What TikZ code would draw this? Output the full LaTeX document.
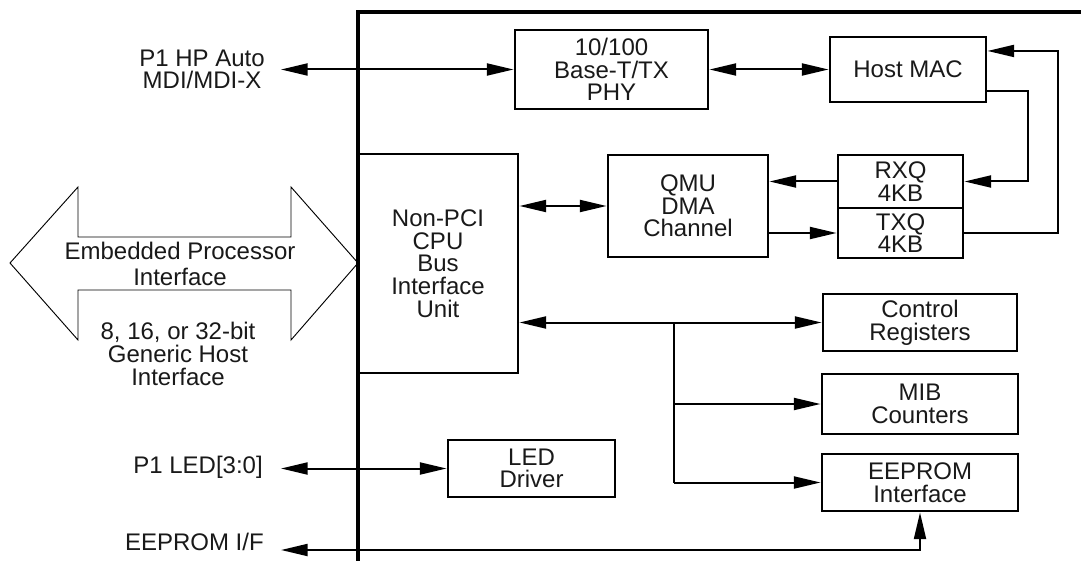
\documentclass[tikz,border=0pt]{standalone}
\usepackage{fontspec}
\setmainfont{Liberation Sans}
\usetikzlibrary{arrows.meta}
\begin{document}
\begin{tikzpicture}[x=0.75pt,y=-0.75pt,
  txt/.style={font=\fontsize{18pt}{17pt}\selectfont, text=black!90},
  box/.style={txt, draw, line width=2.2pt, inner sep=0pt, align=center},
  lbl/.style={txt, inner sep=0pt, align=center},
  conn/.style={line width=1.5pt},
  arr/.style={conn, -{Triangle[length=20pt,width=9pt]}},
  bi/.style={conn, {Triangle[length=20pt,width=9pt]}-{Triangle[length=20pt,width=9pt]}},
  bus/.style={line width=2.6pt},
]
\useasboundingbox (0,0) rectangle (1081,563);

% boxes
\node[box, minimum width=144.75pt, minimum height=59.25pt] (phy) at (611.5,69.5) {10/100\\Base-T/TX\\PHY};
\node[box, minimum width=117pt, minimum height=48.75pt] (mac) at (908,69.5) {Host MAC};
\node[box, minimum width=93.75pt, minimum height=39.75pt] (rxq) at (900.5,181.5) {RXQ\\4KB};
\node[box, minimum width=93.75pt, minimum height=37.5pt] (txq) at (900.5,233) {TXQ\\4KB};
\node[box, minimum width=120pt, minimum height=76.5pt] (qmu) at (688,206) {QMU\\DMA\\Channel};
\node[box, minimum width=120pt, minimum height=164.25pt] (cpu) at (438,263.5) {Non-PCI\\CPU\\Bus\\Interface\\Unit};
\node[box, minimum width=145.5pt, minimum height=42.75pt] (ctrl) at (920,322.5) {Control\\Registers};
\node[box, minimum width=147pt, minimum height=45pt] (mib) at (920,404) {MIB\\Counters};
\node[box, minimum width=147pt, minimum height=42.75pt] (eeprom) at (920,482.5) {EEPROM\\Interface};
\node[box, minimum width=125.25pt, minimum height=42.75pt] (led) at (531.5,468.5) {LED\\Driver};

% chip border
\draw[bus] (1081,12) -- (358,12) -- (358,561);

% external labels
\node[lbl, anchor=east] (mdilbl) at (265,69.5) {P1 HP Auto\\MDI/MDI-X};
\node[lbl, anchor=east] (ledlbl) at (263,467) {P1 LED[3:0]};
\node[lbl, anchor=east] (eeplbl) at (264,542) {EEPROM I/F};

% big double arrow
\draw[line width=0.7pt] (10,263) -- (78,187) -- (78,237) -- (291,237) -- (291,187) -- (358,263)
  -- (291,340) -- (291,290) -- (78,290) -- (78,340) -- cycle;
\node[lbl, font=\fontsize{18pt}{20pt}\selectfont] (epi) at (180,264) {Embedded Processor\\Interface};
\node[lbl] (ghi) at (178,354) {8, 16, or 32-bit\\Generic Host\\Interface};

% coordinates
\coordinate (mdiend) at (281,69.5);
\coordinate (ledend) at (281,468.5);
\coordinate (eepend) at (281,550);
\coordinate (loopR) at (1058,0);
\coordinate (loopL) at (1028,0);
\coordinate (macin) at ([yshift=13.9pt]mac.east);
\coordinate (macout) at ([yshift=-16.1pt]mac.east);
\coordinate (br) at (674,322.5);

% connectors
\draw[bi] (mdiend) -- (phy.west);
\draw[bi] (phy.east) -- (mac.west);
\draw[arr] (txq.east) -| (loopR |- macin) -- (macin);
\draw[arr] (macout) -| (loopL |- rxq.east) -- (rxq.east);
\draw[arr] (rxq.west) -- (rxq.west -| qmu.east);
\draw[arr] (qmu.east |- txq.west) -- (txq.west);
\draw[bi] (cpu.east |- qmu.west) -- (qmu.west);
\draw[bi] (cpu.east |- ctrl.west) -- (ctrl.west);
\draw[conn] (br) -- (br |- eeprom.west);
\draw[arr] (br |- mib.west) -- (mib.west);
\draw[arr] (br |- eeprom.west) -- (eeprom.west);
\draw[bi] (ledend) -- (led.west);
\draw[bi] (eepend) -| (eeprom.south);
\end{tikzpicture}
\end{document}
